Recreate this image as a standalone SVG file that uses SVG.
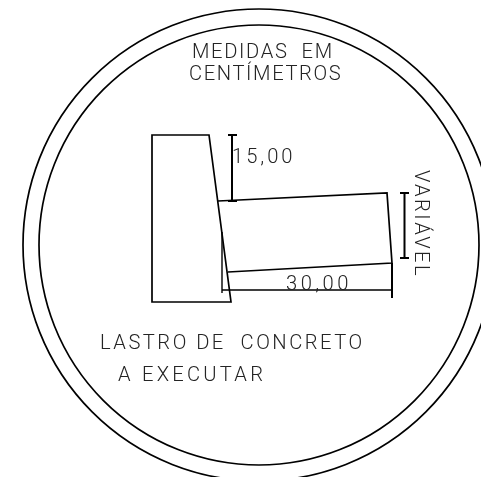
<svg xmlns="http://www.w3.org/2000/svg" width="481" height="477" viewBox="0 0 481 477">
<style>
.l{fill:none;stroke:#000;stroke-width:1.7}
.d{fill:none;stroke:#000;stroke-width:2}
.t{fill:none;stroke:#000;stroke-width:1.4}
#labels{opacity:.99}
text{font-family:Roboto,"Liberation Sans",sans-serif;font-weight:300;fill:#222;font-size:21px}
</style>
<rect width="481" height="477" fill="#fff"/>
<g id="border">
<circle class="l" cx="259" cy="245" r="236"/>
<circle class="l" cx="259" cy="245" r="220"/>
</g>
<g id="wall"><path class="l" d="M152 135H209L231 302H152Z"/></g>
<g id="slab"><path class="l" d="M218 201L387 193L392 263L228 272"/></g>
<g id="connectors">
<path class="d" d="M232 135V201M228 135H237M228 201H237"/>
<path class="t" d="M222 232V293M222 290H392"/>
<path class="d" d="M392 263V298"/>
<path class="d" d="M404.500 193V258M400 193H409M400 258H409"/>
</g>
<g id="labels">
<text transform="translate(192 58) scale(.96 1)" textLength="146" lengthAdjust="spacing" xml:space="preserve">MEDIDAS  EM</text>
<text transform="translate(189 80) scale(.96 1)" textLength="158" lengthAdjust="spacing">CENTÍMETROS</text>
<text transform="translate(232 163) scale(.96 1)" textLength="63" lengthAdjust="spacing">15,00</text>
<text transform="translate(286 290) scale(.96 1)" textLength="65" lengthAdjust="spacing">30,00</text>
<text transform="translate(415 170) rotate(90) scale(.96 1)" textLength="110" lengthAdjust="spacing">VARIÁVEL</text>
<text transform="translate(100 349) scale(.96 1)" textLength="273" lengthAdjust="spacing" xml:space="preserve">LASTRO DE  CONCRETO</text>
<text transform="translate(118 381) scale(.96 1)" textLength="151" lengthAdjust="spacing">A EXECUTAR</text>
</g>
</svg>
